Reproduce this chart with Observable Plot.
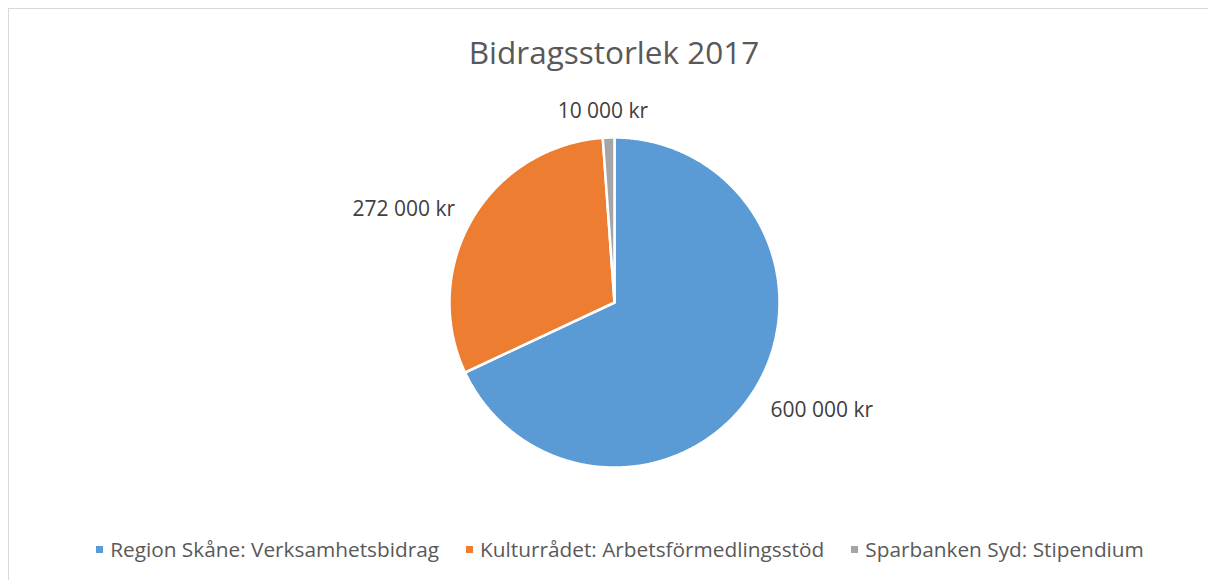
<!DOCTYPE html>
<html><head><meta charset="utf-8">
<script src="https://cdn.jsdelivr.net/npm/d3@7"></script>
<script src="https://cdn.jsdelivr.net/npm/@observablehq/plot@0.6"></script>
<style>
html,body{margin:0;padding:0;background:#fff;width:1208px;height:580px;overflow:hidden;font-family:"Open Sans",sans-serif;}
#frame{position:absolute;left:8px;top:8px;width:1300px;height:700px;border-left:1px solid #d9d9d9;border-top:1px solid #d9d9d9;}
#title{position:absolute;left:0;top:32px;width:1228px;text-align:center;font-size:31.5px;line-height:40px;color:#595959;}
#chart{position:absolute;left:0;top:90px;}
#legend{position:absolute;left:0;top:535px;width:1240px;display:flex;justify-content:center;gap:27px;font-size:20.8px;line-height:28px;color:#595959;white-space:nowrap;}
#legend .item{display:flex;align-items:center;}
#legend .sw{width:7px;height:7px;margin-right:7px;}
</style>
</head><body>
<div id="frame"></div>
<div id="title"></div>
<div id="chart"></div>
<div id="legend"></div>
<script>
const title = "Bidragsstorlek 2017";
const categories = ["Region Skåne: Verksamhetsbidrag", "Kulturrådet: Arbetsförmedlingsstöd", "Sparbanken Syd: Stipendium"];
const values = [600000, 272000, 10000];
const labels = ["600 000 kr", "272 000 kr", "10 000 kr"];
const colors = ["#5B9BD5", "#ED7D31", "#A5A5A5"];

document.getElementById("title").textContent = title;

const rows = categories.map((c, i) => ({category: c, value: values[i], label: labels[i]}));
const arcs = d3.pie().sort(null).value(d => d.value)(rows);

// slice outlines in unit-radius coordinates
const polys = [];
arcs.forEach(a => {
  const c = a.data.category;
  polys.push({category: c, x: 0, y: 0});
  const n = Math.max(2, Math.ceil((a.endAngle - a.startAngle) / (Math.PI / 360)));
  for (let k = 0; k <= n; k++) {
    const t = a.startAngle + (a.endAngle - a.startAngle) * k / n;
    polys.push({category: c, x: Math.sin(t), y: Math.cos(t)});
  }
  polys.push({category: c, x: 0, y: 0});
});

const lr = 1.12;
const labelPts = arcs.map(a => {
  const m = (a.startAngle + a.endAngle) / 2;
  return {label: a.data.label, x: lr * Math.sin(m), y: lr * Math.cos(m), s: Math.sin(m), c: Math.cos(m)};
});

const W = 1208, H = 420, R = 165, cx = 614, cy = 212;
const txt = {x: "x", y: "y", text: "label", fontSize: 21, fill: "#404040"};
const plot = Plot.plot({
  width: W, height: H,
  marginLeft: cx - R, marginRight: W - cx - R,
  marginTop: cy - R, marginBottom: H - cy - R,
  x: {domain: [-1, 1], axis: null},
  y: {domain: [-1, 1], axis: null},
  color: {domain: categories, range: colors},
  style: {fontFamily: "Open Sans, sans-serif", background: "transparent", overflow: "visible"},
  marks: [
    Plot.line(polys, {x: "x", y: "y", z: "category", fill: "category", stroke: "white", strokeWidth: 2.5, strokeLinejoin: "miter", curve: "linear"}),
    Plot.text(labelPts.filter(d => d.s > 0.3 && d.c < 0), {...txt, textAnchor: "start", lineAnchor: "top"}),
    Plot.text(labelPts.filter(d => d.s > 0.3 && d.c >= 0), {...txt, textAnchor: "start"}),
    Plot.text(labelPts.filter(d => d.s < -0.3 && d.c < 0), {...txt, textAnchor: "end", lineAnchor: "top"}),
    Plot.text(labelPts.filter(d => d.s < -0.3 && d.c >= 0), {...txt, textAnchor: "end"}),
    Plot.text(labelPts.filter(d => Math.abs(d.s) <= 0.3), {...txt, textAnchor: "middle", lineAnchor: "bottom", dx: -5})
  ]
});
document.getElementById("chart").appendChild(plot);

const leg = document.getElementById("legend");
categories.forEach((c, i) => {
  const it = document.createElement("div"); it.className = "item";
  const sw = document.createElement("span"); sw.className = "sw"; sw.style.background = colors[i];
  const tx = document.createElement("span"); tx.textContent = c;
  it.appendChild(sw); it.appendChild(tx); leg.appendChild(it);
});
</script>
</body></html>
